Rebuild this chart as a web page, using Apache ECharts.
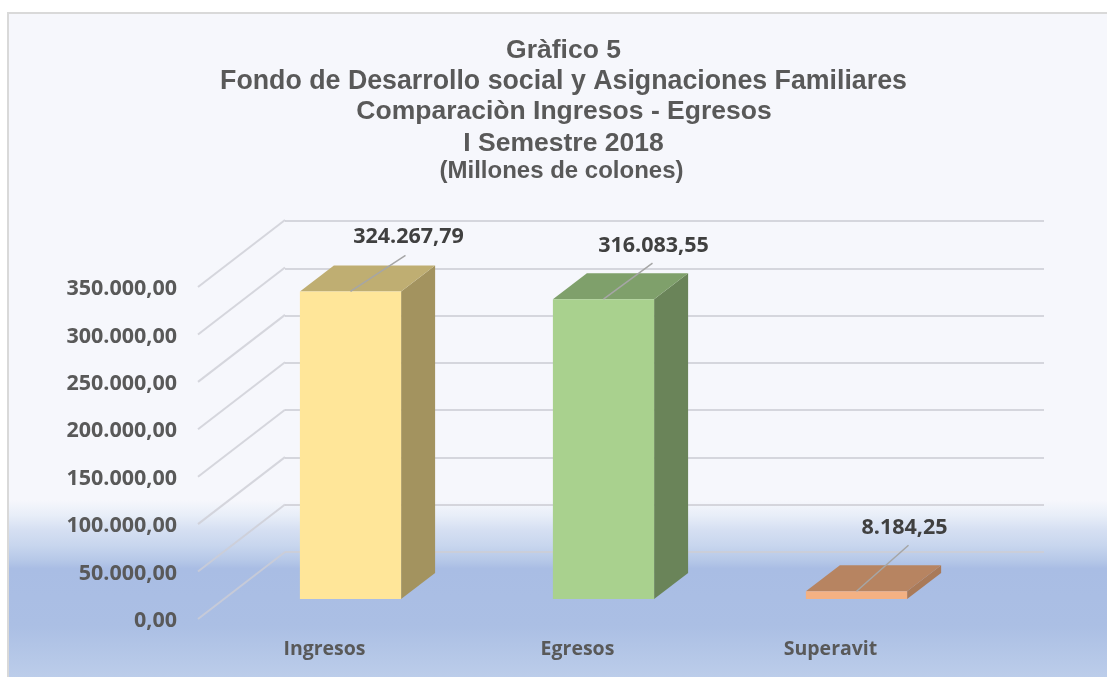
<!DOCTYPE html>
<html>
<head>
<meta charset="utf-8">
<title>Gràfico 5</title>
<script src="https://cdn.jsdelivr.net/npm/echarts@6/dist/echarts.min.js"></script>
<style>
  html, body { margin: 0; padding: 0; background: #fff; }
  #chart { width: 1107px; height: 677px; }
</style>
</head>
<body>
<div id="chart"></div>
<script>
const titleLines = [
  'Gràfico 5',
  'Fondo de Desarrollo social y Asignaciones Familiares',
  'Comparaciòn Ingresos - Egresos',
  'I Semestre 2018',
  '(Millones de colones)'
]
const categories = ['Ingresos', 'Egresos', 'Superavit']
const values = [324267.79, 316083.55, 8184.25]
const valueLabels = ['324.267,79', '316.083,55', '8.184,25']
const yTicks = [0, 50000, 100000, 150000, 200000, 250000, 300000, 350000]

// title placement per line
const titleTops = [32, 63, 93, 125, 154]
const titleCentres = [558.5, 558.5, 559, 558.5, 556.5]
const titleSizes = [26.5, 26.75, 26.5, 26.5, 24]

// 3D look: front, top and side colours of each bar
const frontColors = ['#ffe699', '#a9d18e', '#f4b183']
const topColors = ['#bfae72', '#7fa06b', '#b78461']
const sideColors = ['#a3935f', '#6a8459', '#a97a59']

// offsets of the fake perspective, in pixels
const wallShift = [87, -67]
const barShift = [26, -20]
const barDepth = [34, -26]
// data label leader line end and text centre, relative to the bar top centre
const leaderEnds = [[55, -36], [49, -36], [52, -46]]
const labelCentres = [[58, -55], [50, -53], [48, -63]]

function fmtTick(v) {
  const s = String(v).replace(/\B(?=(\d{3})+$)/g, '.')
  return '{v|' + s + ',00}'
}

function renderBar(params, api) {
  const i = api.value(0)
  const band = api.size([1, 0])[0]
  const w = band * 0.4
  const top = api.coord([i, api.value(1)])
  const base = api.coord([i, 0])
  const l = top[0] - w / 2 + barShift[0]
  const r = l + w
  const t = top[1] + barShift[1]
  const b = base[1] + barShift[1]
  const dx = barDepth[0]
  const dy = barDepth[1]
  const cx = l + w / 2
  return {
    type: 'group',
    children: [
      {type: 'polygon', shape: {points: [[r, t], [r + dx, t + dy], [r + dx, b + dy], [r, b]]}, style: {fill: sideColors[i]}},
      {type: 'polygon', shape: {points: [[l, t], [l + dx, t + dy], [r + dx, t + dy], [r, t]]}, style: {fill: topColors[i]}},
      {type: 'rect', shape: {x: l, y: t, width: w, height: b - t}, style: {fill: frontColors[i]}},
      {type: 'line', shape: {x1: cx, y1: t, x2: cx + leaderEnds[i][0], y2: t + leaderEnds[i][1]}, style: {stroke: '#a6a6a6', lineWidth: 1.5}},
      {
        type: 'text',
        style: {
          x: cx + labelCentres[i][0],
          y: t + labelCentres[i][1],
          text: valueLabels[i],
          fill: '#404040',
          font: 'bold 21.5px "Open Sans"',
          align: 'center',
          verticalAlign: 'middle'
        }
      }
    ]
  }
}

function renderSlant(params, api) {
  const p = api.coord([0, api.value(0)])
  const x = params.coordSys.x
  return {
    type: 'line',
    shape: {x1: x, y1: p[1], x2: x + wallShift[0], y2: p[1] + wallShift[1]},
    style: {stroke: 'rgba(205,205,212,0.8)', lineWidth: 2}
  }
}

const option = {
  animation: false,
  title: titleLines.map((text, i) => ({
    text: text,
    left: titleCentres[i],
    top: titleTops[i],
    textAlign: 'center',
    textStyle: {
      fontFamily: 'Liberation Sans',
      fontWeight: 'bold',
      fontSize: titleSizes[i],
      color: '#595959'
    }
  })),
  graphic: [{
    type: 'rect',
    z: -10,
    silent: true,
    shape: {x: 8, y: 13, width: 1110, height: 680},
    style: {
      stroke: '#d9d9d9',
      lineWidth: 2,
      fill: {
        type: 'linear', x: 0, y: 0, x2: 0, y2: 1,
        colorStops: [
          {offset: 0, color: '#f6f7fc'},
          {offset: 0.716, color: '#f6f7fc'},
          {offset: 0.738, color: '#e8eef8'},
          {offset: 0.76, color: '#d5dff2'},
          {offset: 0.782, color: '#c8d6ee'},
          {offset: 0.804, color: '#b6c8e8'},
          {offset: 0.816, color: '#a9bde4'},
          {offset: 0.9, color: '#abbfe4'},
          {offset: 0.976, color: '#bccdea'}
        ]
      }
    }
  }],
  grid: [
    {left: 198, top: 287, width: 759, height: 332},
    {left: 285, top: 221, width: 759, height: 331}
  ],
  xAxis: [
    {
      type: 'category',
      gridIndex: 0,
      data: categories,
      axisLine: {show: false},
      axisTick: {show: false},
      axisLabel: {margin: 20, color: '#595959', fontFamily: 'Open Sans', fontWeight: 'bold', fontSize: 19.5}
    },
    {type: 'category', gridIndex: 1, data: categories, show: false}
  ],
  yAxis: [
    {
      type: 'value',
      gridIndex: 0,
      min: 0,
      max: 350000,
      interval: 50000,
      axisLine: {show: false},
      axisTick: {show: false},
      splitLine: {show: false},
      axisLabel: {
        margin: 21,
        formatter: fmtTick,
        rich: {
          v: {padding: [4, 0, 0, 0], color: '#595959', fontFamily: 'Open Sans', fontWeight: 'bold', fontSize: 21.5}
        }
      }
    },
    {
      type: 'value',
      gridIndex: 1,
      min: 0,
      max: 350000,
      interval: 50000,
      axisLine: {show: false},
      axisTick: {show: false},
      axisLabel: {show: false},
      splitLine: {show: true, lineStyle: {color: 'rgba(205,205,212,0.8)', width: 2}}
    }
  ],
  series: [
    {
      type: 'custom',
      xAxisIndex: 0,
      yAxisIndex: 0,
      z: 1,
      silent: true,
      data: yTicks.map(v => [v]),
      encode: {y: 0},
      renderItem: renderSlant
    },
    {
      type: 'custom',
      xAxisIndex: 0,
      yAxisIndex: 0,
      z: 3,
      silent: true,
      data: values.map((v, i) => [i, v]),
      encode: {x: 0, y: 1},
      renderItem: renderBar
    }
  ]
}

const chart = echarts.init(document.getElementById('chart'))
chart.setOption(option)
</script>
</body>
</html>
